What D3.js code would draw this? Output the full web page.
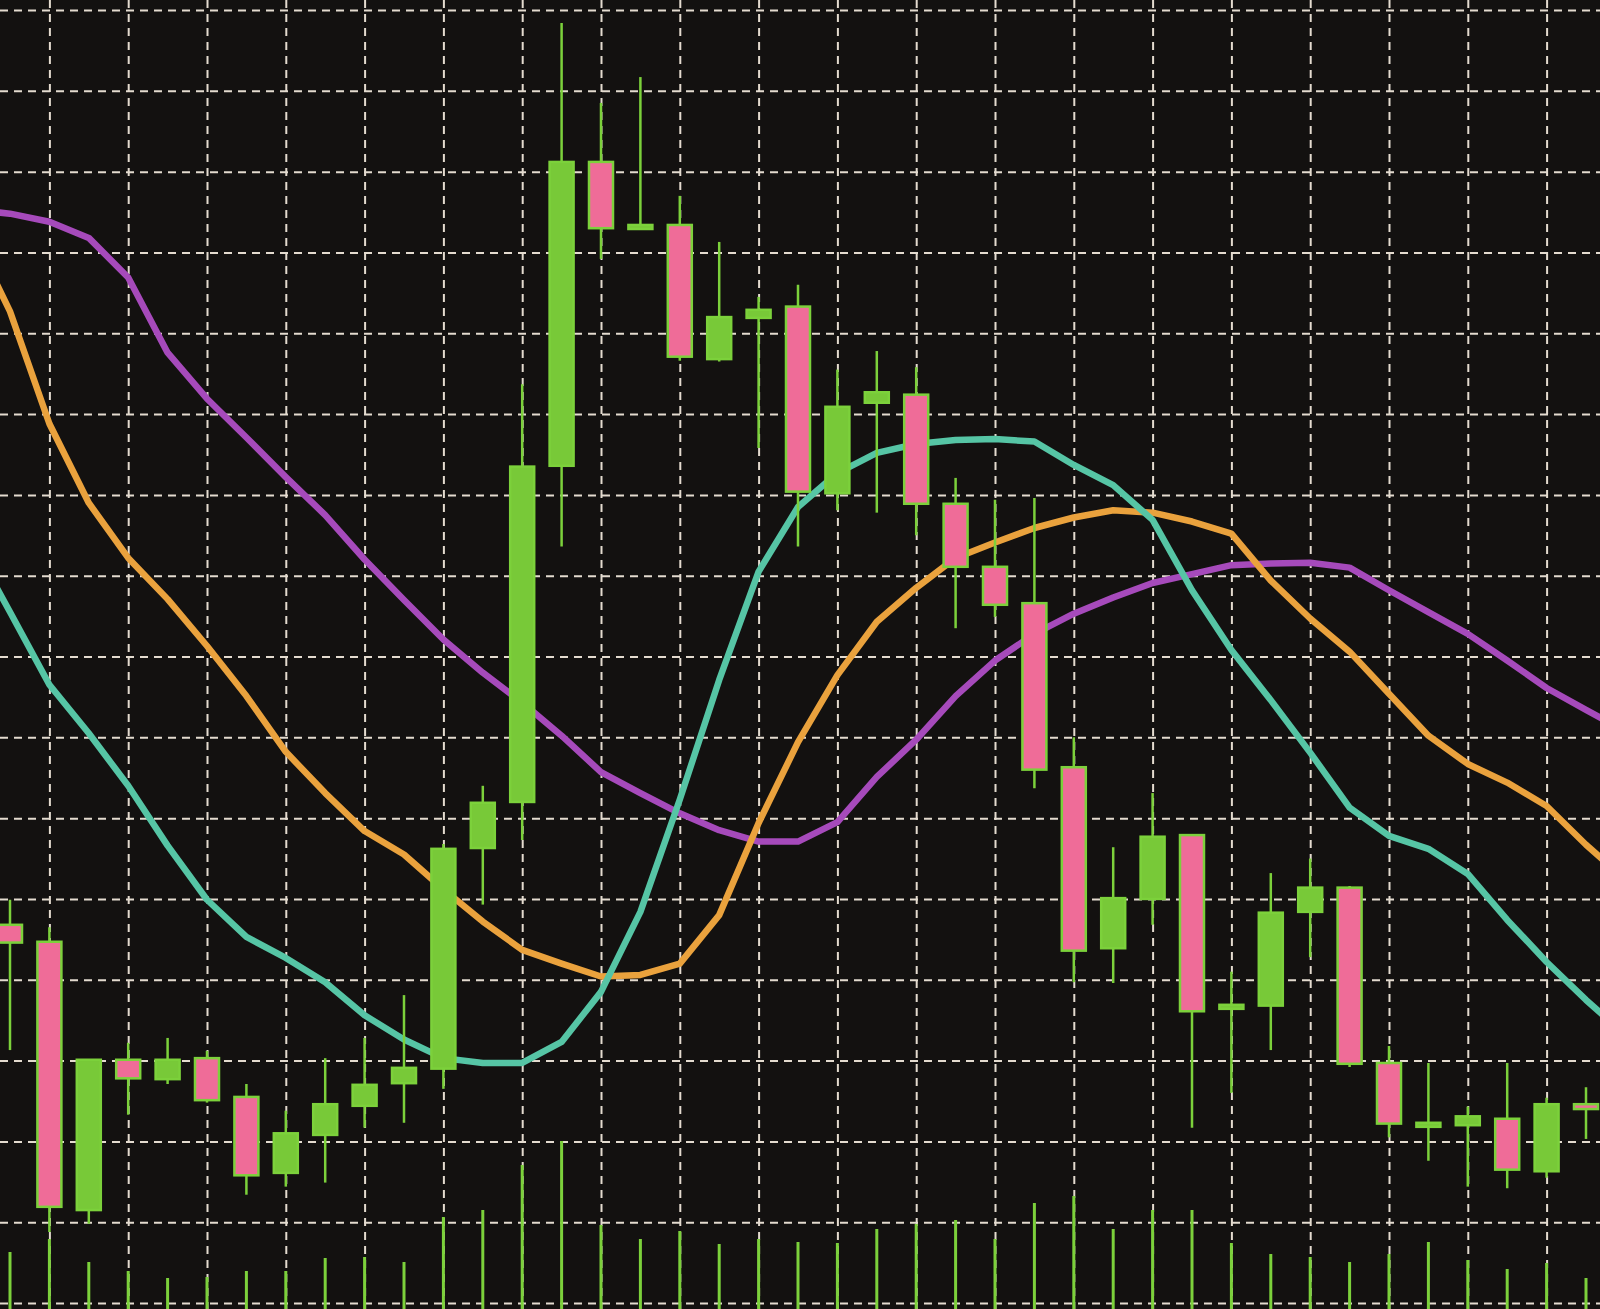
<!DOCTYPE html>
<html>
<head>
<meta charset="utf-8">
<script src="https://cdn.jsdelivr.net/npm/d3@7"></script>
<style>
  html, body { margin: 0; padding: 0; background: #141211; overflow: hidden; }
  svg { display: block; }
</style>
</head>
<body>
<svg id="chart" width="1600" height="1309"></svg>
<script>
// ---- Data ----
const candleIndex = d3.range(0, 41);
const open  = [46.8, 44.7, 11.5, 30.1, 27.7, 30.3, 25.5, 16.1, 20.8, 24.4, 27.2, 29.0, 56.3, 62.0, 103.6, 141.2, 132.9, 133.4, 116.8, 121.9, 123.3, 100.2, 111.4, 112.4, 98.9, 91.1, 86.6, 66.3, 43.9, 50.0, 57.9, 36.4, 36.8, 48.4, 51.4, 29.7, 21.8, 22.0, 22.8, 16.3, 24.6];
const high  = [49.9, 46.5, 30.1, 32.2, 32.8, 31.2, 27.1, 23.8, 30.3, 32.8, 38.1, 56.8, 64.0, 113.7, 158.4, 148.5, 151.7, 137.0, 131.3, 124.5, 126.0, 115.5, 117.8, 115.8, 102.1, 99.4, 99.6, 70.0, 56.4, 63.1, 57.9, 41.0, 53.2, 55.0, 51.6, 31.8, 29.7, 24.3, 29.7, 25.4, 26.7];
const low   = [31.3, 8.8, 9.8, 23.3, 27.1, 24.8, 13.4, 14.4, 14.9, 21.7, 22.3, 26.5, 49.3, 57.3, 93.6, 129.2, 132.8, 116.6, 116.5, 105.8, 93.6, 98.1, 97.8, 95.0, 83.5, 84.9, 63.7, 39.7, 39.6, 46.8, 21.7, 26.0, 31.3, 42.8, 29.2, 20.5, 17.6, 14.4, 14.2, 15.5, 20.3];
const close = [44.6, 11.9, 30.1, 27.8, 30.1, 25.1, 15.8, 21.0, 24.6, 27.0, 29.1, 56.2, 61.9, 103.5, 141.2, 133.0, 133.4, 117.1, 122.0, 122.9, 100.4, 110.9, 112.7, 98.9, 91.1, 86.4, 66.0, 43.6, 50.1, 57.7, 36.1, 36.9, 48.3, 51.4, 29.6, 22.2, 22.3, 23.1, 16.5, 24.6, 24.0];
const volume = [570, 700, 470, 380, 310, 320, 380, 380, 510, 520, 470, 920, 990, 1440, 1680, 840, 700, 780, 650, 700, 670, 660, 800, 850, 890, 700, 1060, 1130, 800, 990, 990, 660, 550, 520, 470, 550, 670, 490, 400, 460, 310];

// moving averages, one value per bar from index -1 to 41 (edges run off the picture)
const maIndex = d3.range(-1, 42);
const maSlow   = [135.3, 134.8, 133.8, 131.8, 126.9, 117.6, 111.9, 107.1, 102.2, 97.5, 92.0, 87.0, 82.1, 78.0, 74.3, 70.2, 65.7, 63.1, 60.6, 58.5, 57.1, 57.1, 59.5, 65.1, 69.7, 75.1, 79.5, 82.8, 85.3, 87.3, 89.1, 90.2, 91.3, 91.5, 91.6, 91.0, 88.2, 85.5, 82.8, 79.5, 76.1, 73.4, 70.7];
const maMid    = [132.8, 122.7, 108.8, 99.0, 92.2, 87.1, 81.3, 75.1, 68.2, 63.1, 58.4, 55.5, 51.2, 47.2, 43.7, 42.0, 40.4, 40.6, 42.0, 48.0, 59.4, 69.4, 77.7, 84.3, 88.5, 92.2, 94.1, 95.9, 97.2, 98.1, 97.8, 96.7, 95.2, 89.4, 84.7, 80.6, 75.4, 70.2, 66.7, 64.4, 61.5, 56.7, 52.4];
const maFast   = [94.4, 85.5, 76.5, 70.5, 64.0, 56.6, 49.9, 45.3, 42.7, 39.7, 35.6, 32.6, 30.3, 29.7, 29.7, 32.3, 38.5, 48.4, 62.3, 77.1, 90.5, 98.5, 102.7, 105.2, 106.3, 106.8, 106.9, 106.6, 103.7, 101.2, 96.9, 88.2, 80.8, 74.6, 68.1, 61.3, 57.8, 56.2, 53.1, 47.4, 42.2, 37.5, 33.2];

const gridX = d3.range(1, 40, 2);       // vertical grid at every other bar
const gridY = d3.range(0, 161, 10);     // horizontal grid levels

// ---- Drawing ----
const W = 1600, H = 1309;
const svg = d3.select("#chart");

const x = d3.scaleLinear().domain([0, 40]).range([10, 1586]);
const y = d3.scaleLinear().domain([0, 160]).range([1303, 10]);
const yVol = d3.scaleLinear().domain([0, 1000]).range([H, H - 100]);

const colors = {
  bg: "#131110",
  grid: "#e4dbcf",
  green: "#7cd13b",
  greenFill: "#78c938",
  pink: "#ef6c98",
  slow: "#a64abb",
  mid: "#eaa23d",
  fast: "#56c5a5"
};

svg.append("rect").attr("width", W).attr("height", H).attr("fill", colors.bg);

// grid via axes
const gx = svg.append("g")
  .call(d3.axisBottom(x).tickValues(gridX).tickSize(H).tickFormat(""));
const gy = svg.append("g")
  .call(d3.axisRight(y).tickValues(gridY).tickSize(W).tickFormat(""));
[gx, gy].forEach(g => {
  g.select(".domain").remove();
  g.selectAll(".tick line")
    .attr("stroke", colors.grid)
    .attr("stroke-width", 2)
    .attr("stroke-dasharray", "8,6");
});

// volume bars
svg.append("g").selectAll("line")
  .data(candleIndex)
  .join("line")
  .attr("x1", i => x(i)).attr("x2", i => x(i))
  .attr("y1", yVol(0)).attr("y2", i => yVol(volume[i]))
  .attr("stroke", colors.green)
  .attr("stroke-width", 3);

// moving average lines
const line = d3.line()
  .x(d => x(d[0]))
  .y(d => y(d[1]));
[[maSlow, colors.slow], [maMid, colors.mid], [maFast, colors.fast]].forEach(([vals, c]) => {
  svg.append("path")
    .datum(maIndex.map((k, j) => [k, vals[j]]))
    .attr("d", line)
    .attr("fill", "none")
    .attr("stroke", c)
    .attr("stroke-width", 6.5)
    .attr("stroke-linejoin", "round");
});

// candles
const bodyW = 24;
const cg = svg.append("g").selectAll("g")
  .data(candleIndex)
  .join("g");

cg.append("line")
  .attr("x1", i => x(i)).attr("x2", i => x(i))
  .attr("y1", i => y(high[i])).attr("y2", i => y(low[i]))
  .attr("stroke", colors.green)
  .attr("stroke-width", 2.5);

cg.append("rect")
  .attr("x", i => x(i) - bodyW / 2)
  .attr("width", bodyW)
  .attr("y", i => y(Math.max(open[i], close[i])))
  .attr("height", i => Math.max(3, Math.abs(y(open[i]) - y(close[i]))))
  .attr("fill", i => close[i] >= open[i] ? colors.greenFill : colors.pink)
  .attr("stroke", colors.green)
  .attr("stroke-width", 2.5);
</script>
</body>
</html>
